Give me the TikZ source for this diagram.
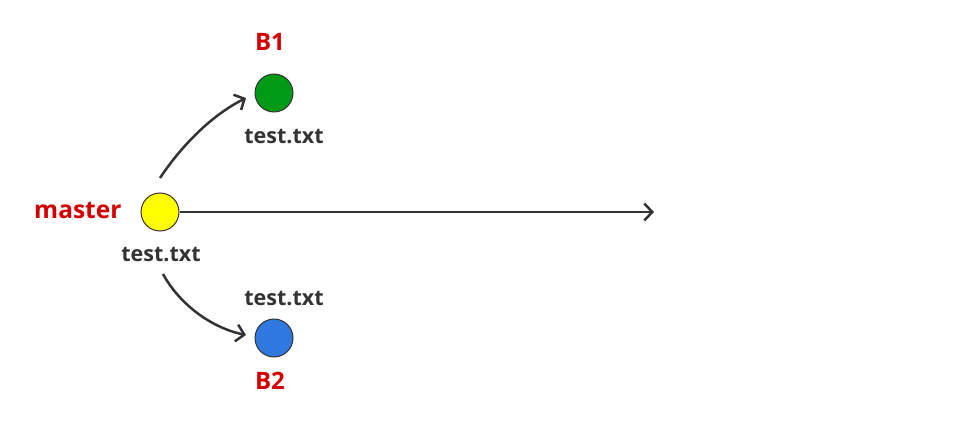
\documentclass[tikz,border=0pt]{standalone}
\usepackage{fontspec}
\setmainfont{Open Sans}
\usepackage{tikz}
\usetikzlibrary{arrows.meta,positioning}
\definecolor{lblred}{HTML}{D40000}
\definecolor{txtgray}{HTML}{333333}
\definecolor{cmtyellow}{HTML}{FFFF00}
\definecolor{cmtgreen}{HTML}{009A17}
\definecolor{cmtblue}{HTML}{2E78E0}

\begin{document}
\begin{tikzpicture}[x=1pt,y=-1pt,
    commit/.style={circle,draw=txtgray,line width=1pt,minimum size=38pt,inner sep=0pt},
    branch/.style={text=lblred,font=\fontsize{24}{28}\selectfont\bfseries},
    file/.style={text=txtgray,font=\fontsize{21.5}{25}\selectfont\bfseries},
    arrow/.style={draw=txtgray,line width=2.5pt,-{Straight Barb[length=8pt,width=17pt,line width=2.5pt]}}]
    \useasboundingbox (0,0) rectangle (964,422);
    % commits
    \node[commit,fill=cmtyellow] (master) at (160,212) {};
    \node[commit,fill=cmtgreen] (b1) at (274,93) {};
    \node[commit,fill=cmtblue] (b2) at (274,338) {};
    % labels
    \node[branch,font=\fontsize{24.5}{28}\selectfont\bfseries,anchor=east] (lmaster) at (125,211) {master};
    \node[branch] (lb1) at (270,42) {B1};
    \node[branch] (lb2) at (270,381) {B2};
    \node[file] (fmaster) at (161,255) {test.txt};
    \node[file] (fb1) at (284,137) {test.txt};
    \node[file] (fb2) at (284,299) {test.txt};
    % connectors
    \coordinate (tline) at (654,212);
    \coordinate (up) at (160,178);
    \coordinate (upend) at (246,98);
    \coordinate (down) at (163,274);
    \coordinate (downend) at (246,335);
    \draw[arrow] (master) -- (tline);
    \draw[arrow] (up) .. controls (182,145) and (212,115) .. (upend);
    \draw[arrow] (down) .. controls (180,305) and (212,328) .. (downend);
\end{tikzpicture}
\end{document}
